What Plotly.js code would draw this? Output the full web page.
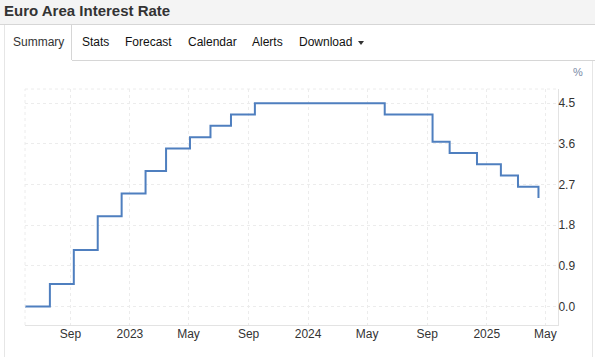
<!DOCTYPE html>
<html>
<head>
<meta charset="utf-8">
<script src="https://cdn.plot.ly/plotly-3.0.1.min.js"></script>
<style>
  html, body { margin:0; padding:0; width:595px; height:357px; overflow:hidden; background:#fff; font-family: Arial, "Liberation Sans", sans-serif; }
  #header { position:absolute; left:0; top:0; width:595px; height:25px; background:#f4f4f4; border-bottom:1px solid #d6d6d6; box-sizing:border-box; }
  #title { position:absolute; left:4px; top:2px; font-size:15px; font-weight:bold; color:#333; line-height:18px; }
  #tabline { position:absolute; left:72px; top:60px; width:523px; height:0; border-top:1px solid #d6d6d6; }
  #frameL { position:absolute; left:4px; top:25px; width:0; height:332px; border-left:1px solid #e6e6e6; }
  #frameR { position:absolute; left:592px; top:60px; width:0; height:297px; border-left:1px solid #e6e6e6; }
  #activeTab { position:absolute; left:4px; top:25px; width:68px; height:35px; border-right:1px solid #d6d6d6; border-left:1px solid #d6d6d6; box-sizing:border-box; background:#fff; }
  .tab { position:absolute; top:35px; font-size:12px; color:#111; line-height:15px; white-space:nowrap; }
  #caret { position:absolute; left:358px; top:41px; width:0; height:0; border-left:3px solid transparent; border-right:3px solid transparent; border-top:4px solid #333; }
  #plot { position:absolute; left:0; top:0; width:595px; height:357px; }
</style>
</head>
<body>
<div id="plot"></div>
<div id="header"><div id="title">Euro Area Interest Rate</div></div>
<div id="activeTab"></div>
<div id="frameL"></div>
<div id="frameR"></div>
<div id="tabline"></div>
<div class="tab" style="left:13px;color:#333;">Summary</div>
<div class="tab" style="left:82px;">Stats</div>
<div class="tab" style="left:125px;">Forecast</div>
<div class="tab" style="left:188px;">Calendar</div>
<div class="tab" style="left:252px;">Alerts</div>
<div class="tab" style="left:299px;">Download</div>
<div id="caret"></div>
<script>
// Data (ECB decision dates, main refinancing rate %)
const dates = ["2022-04-14","2022-07-21","2022-09-08","2022-10-27","2022-12-15","2023-02-02","2023-03-16","2023-05-04","2023-06-15","2023-07-27","2023-09-14","2024-06-06","2024-09-12","2024-10-17","2024-12-12","2025-01-30","2025-03-06","2025-04-17"];
const rates = [0.00, 0.50, 1.25, 2.00, 2.50, 3.00, 3.50, 3.75, 4.00, 4.25, 4.50, 4.25, 3.65, 3.40, 3.15, 2.90, 2.65, 2.40];

const xTickVals = ["2022-09-01","2023-01-01","2023-05-01","2023-09-01","2024-01-01","2024-05-01","2024-09-01","2025-01-01","2025-05-01"];
const xTickText = ["Sep","2023","May","Sep","2024","May","Sep","2025","May"];
const yTickVals = [0.0, 0.9, 1.8, 2.7, 3.6, 4.5];
const yTickText = ["0.0","0.9","1.8","2.7","3.6","4.5"];

const trace = {
  x: dates, y: rates, type: "scatter", mode: "lines",
  line: { shape: "hv", color: "#4f7fbf", width: 2 },
  hoverinfo: "x+y"
};

const layout = {
  width: 595, height: 357,
  margin: { l: 25, r: 37, t: 89, b: 32, pad: 0 },
  paper_bgcolor: "rgba(0,0,0,0)", plot_bgcolor: "#fff",
  showlegend: false,
  font: { family: "Arial, Liberation Sans, sans-serif", size: 12, color: "#333" },
  xaxis: {
    type: "date", range: ["2022-05-31", "2025-05-27"],
    tickmode: "array", tickvals: xTickVals, ticktext: xTickText,
    showgrid: true, gridcolor: "#ececec", griddash: "dot", gridwidth: 1,
    showline: true, linecolor: "#e3e3e3", linewidth: 1,
    ticks: "", ticklabelstandoff: -2, zeroline: false, tickfont: { size: 12, color: "#333" }
  },
  yaxis: {
    side: "right", range: [-0.41, 4.816],
    tickmode: "array", tickvals: yTickVals, ticktext: yTickText,
    showgrid: true, gridcolor: "#ececec", griddash: "dot", gridwidth: 1,
    showline: true, linecolor: "#e3e3e3", linewidth: 1,
    ticks: "", ticklabelstandoff: -3, zeroline: false, tickfont: { size: 12, color: "#333" }
  },
  shapes: [
    { type: "line", xref: "paper", yref: "paper", x0: 0, x1: 1, y0: 1, y1: 1, line: { color: "#ececec", width: 1, dash: "dot" } },
    { type: "line", xref: "paper", yref: "paper", x0: 0, x1: 0, y0: 0, y1: 1, line: { color: "#ececec", width: 1, dash: "dot" } }
  ],
  annotations: [
    { text: "%", xref: "paper", yref: "paper", x: 1, y: 1, xanchor: "left", yanchor: "bottom", xshift: 13, yshift: 9, showarrow: false, font: { size: 11, color: "#7a8aa6" } }
  ]
};

Plotly.newPlot("plot", [trace], layout, { displayModeBar: false, staticPlot: true });
</script>
</body>
</html>
